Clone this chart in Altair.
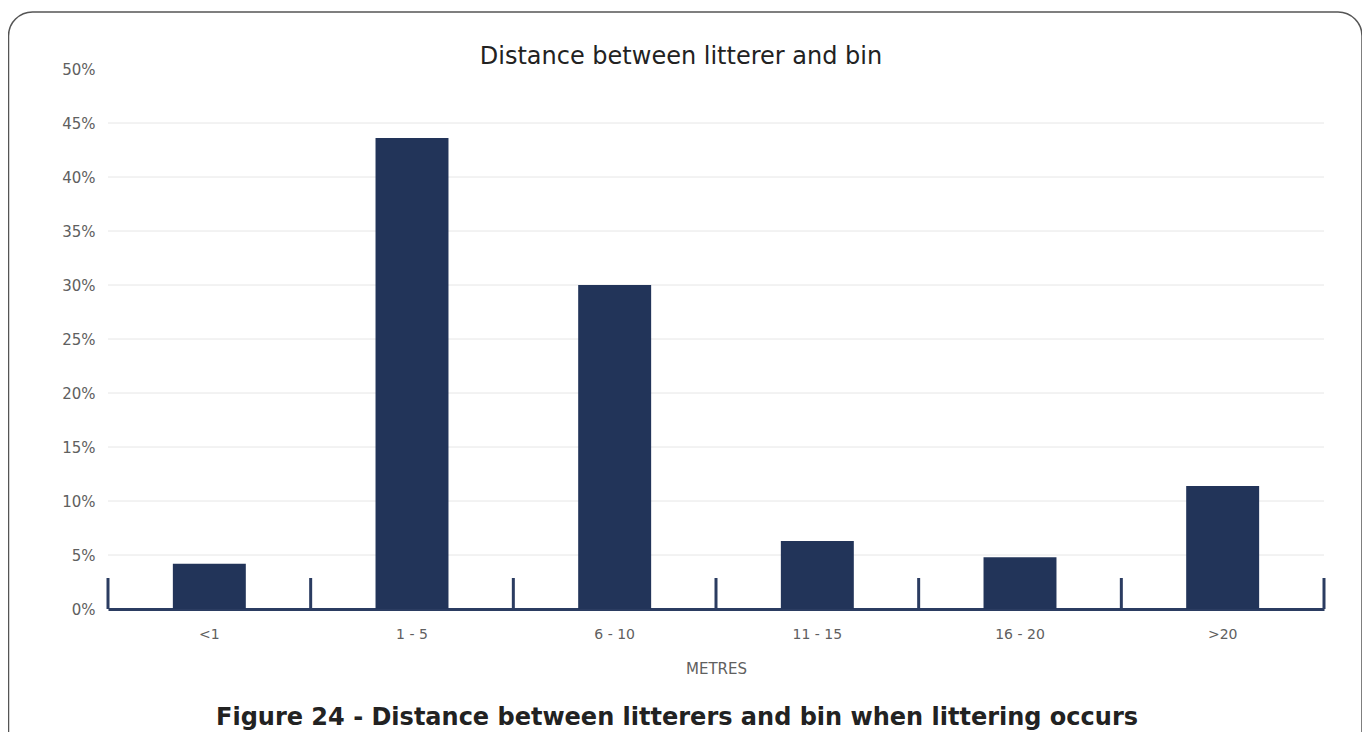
import altair as alt
import pandas as pd

# ---- data ----
categories = ["<1", "1 - 5", "6 - 10", "11 - 15", "16 - 20", ">20"]
shares = [0.042, 0.436, 0.300, 0.063, 0.048, 0.114]
y_ticks = [0.0, 0.05, 0.10, 0.15, 0.20, 0.25, 0.30, 0.35, 0.40, 0.45, 0.50]
grid_values = y_ticks[1:-1]
title_text = "Distance between litterer and bin"
caption_text = "Figure 24 - Distance between litterers and bin when littering occurs"
x_title = "METRES"

# ---- styling ----
W, H = 1216, 540
FONT = "DejaVu Sans"
NAVY = "#223459"
AXIS_NAVY = "#2b3c61"
GREY = "#606060"

bars_df = pd.DataFrame({"cat": categories, "share": shares})
grid_df = pd.DataFrame({"v": grid_values})

x_scale = alt.Scale(domain=categories, paddingInner=0, paddingOuter=0)
y_scale = alt.Scale(domain=[0, 0.5], nice=False)

x_axis = alt.Axis(
    title=x_title,
    labelAngle=0,
    labelFont=FONT,
    labelFontSize=14,
    labelColor=GREY,
    labelPadding=18,
    ticks=False,
    grid=False,
    domainColor=AXIS_NAVY,
    domainWidth=3,
    titleFont=FONT,
    titleFontSize=15,
    titleFontWeight="normal",
    titleColor=GREY,
    titlePadding=20,
)
y_axis = alt.Axis(
    title=None,
    values=y_ticks,
    format=".0%",
    labelFont=FONT,
    labelFontSize=15,
    labelColor=GREY,
    labelPadding=13,
    ticks=False,
    domain=False,
    grid=False,
)

bars = alt.Chart(bars_df).mark_bar(
    color=NAVY, width=alt.RelativeBandSize(0.36)
).encode(
    x=alt.X("cat:N", scale=x_scale, sort=categories, axis=x_axis),
    y=alt.Y("share:Q", scale=y_scale, axis=y_axis),
)

grid = alt.Chart(grid_df).mark_rule(color="#e6e6e6", strokeWidth=1).encode(
    y=alt.Y("v:Q", scale=y_scale, axis=y_axis)
)

ticks = alt.Chart(bars_df).mark_rule(color=AXIS_NAVY, strokeWidth=3).encode(
    x=alt.X("cat:N", scale=x_scale, sort=categories, bandPosition=0, axis=x_axis),
    y=alt.value(H),
    y2=alt.value(H - 31),
)

end_tick = alt.Chart(bars_df.tail(1)).mark_rule(color=AXIS_NAVY, strokeWidth=3).encode(
    x=alt.X("cat:N", scale=x_scale, sort=categories, bandPosition=1, axis=x_axis),
    y=alt.value(H),
    y2=alt.value(H - 31),
)

frame = alt.Chart(pd.DataFrame({"k": [0]})).mark_rect(
    fill="transparent", stroke="#555555", strokeWidth=1.5, cornerRadius=24
).encode(
    x=alt.value(-99.5), x2=alt.value(1254), y=alt.value(-57), y2=alt.value(720)
)

title = alt.Chart(pd.DataFrame({"t": [title_text]})).mark_text(
    font=FONT, fontSize=24, fontWeight="normal", color="#222222", baseline="middle"
).encode(text="t:N", x=alt.value(573), y=alt.value(-12))

caption = alt.Chart(pd.DataFrame({"t": [caption_text]})).mark_text(
    font=FONT, fontSize=24, fontWeight="bold", color="#222222", baseline="middle"
).encode(text="t:N", x=alt.value(569), y=alt.value(649))

chart = alt.layer(grid, bars, ticks, end_tick, frame, title, caption).properties(
    width=W,
    height=H,
    autosize=alt.AutoSizeParams(type="none"),
    padding={"left": 100, "top": 61, "right": 38, "bottom": 123},
).configure_view(strokeWidth=0)

chart.save("out.html", embed_options={"renderer": "svg", "actions": False})
